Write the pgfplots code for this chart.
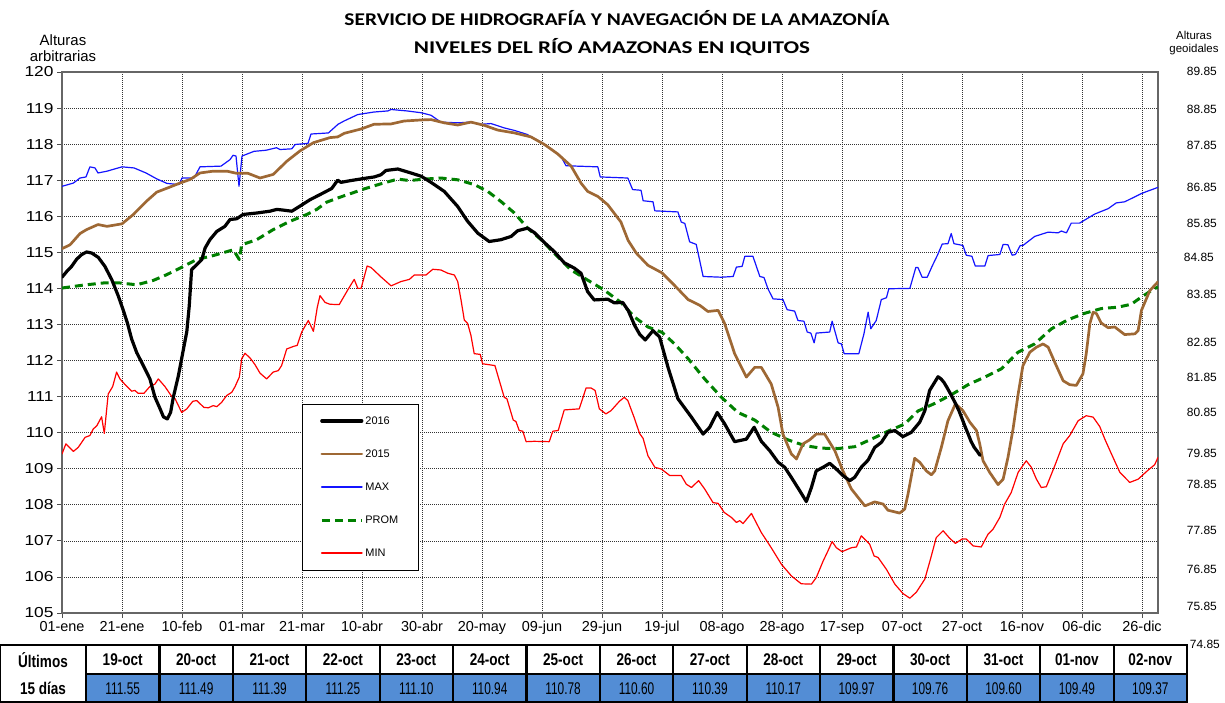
\documentclass[border=0pt]{standalone}
\usepackage{fontspec}
\setmainfont{Liberation Sans}
\newfontfamily\carlito{Carlito}
\usepackage{pgfplots}
\pgfplotsset{compat=1.18}
\definecolor{brownA}{RGB}{158,104,52}
\definecolor{greenA}{RGB}{0,128,0}
\definecolor{blueA}{RGB}{20,20,255}
\definecolor{redA}{RGB}{255,0,0}
\definecolor{tblblue}{RGB}{83,141,213}
\newcommand{\hdr}[1]{\scalebox{0.8}[1]{\bfseries\fontsize{17}{19}\selectfont #1}}
\newcommand{\vlu}[1]{\scalebox{0.7}[1]{\fontsize{17}{19}\selectfont #1}}
\begin{document}
\begin{tikzpicture}[x=1bp,y=1bp]
\useasboundingbox (0,0) rectangle (1225,703);
\begin{axis}[
  at={(62bp,90bp)}, anchor=south west, scale only axis,
  width=1096bp, height=541bp,
  xmin=0, xmax=365.33, ymin=105, ymax=120,
  xtick={0,20,...,360},
  xticklabels={01-ene,21-ene,10-feb,01-mar,21-mar,10-abr,30-abr,20-may,09-jun,29-jun,19-jul,08-ago,28-ago,17-sep,07-oct,27-oct,16-nov,06-dic,26-dic},
  ytick={105,106,...,120},
  yticklabel={\scalebox{1.2}[1]{\pgfmathprintnumber[assume math mode=true]{\tick}}},
  xticklabel style={font=\fontsize{14.5}{16}\selectfont},
  yticklabel style={font=\fontsize{14.5}{16}\selectfont},
  tick pos=left, tick align=outside, major tick length=5bp,
  tick style={black!70, line width=0.8bp},
  grid=major,
  major grid style={black!80, line width=0.7bp, dash pattern=on 1bp off 1bp},
  axis line style={black!60, line width=1.2bp},
  reverse legend,
  legend style={at={(0.219,0.386)}, anchor=north west, draw=black, fill=white,
    font=\fontsize{11}{12}\selectfont, inner xsep=18bp, inner ysep=10bp, row sep=20bp, cells={anchor=west}},
  legend image code/.code={\draw[#1] (0bp,0bp) -- (40bp,0bp);},
  every axis plot/.append style={line join=round, line cap=round},
]
% MIN
\addplot[color=redA, line width=1.2bp, legend image post style={draw=redA, line width=1.8bp}] coordinates {
(0,109.41) (1.3,109.69) (3.8,109.48) (5.4,109.59) (7.7,109.87) (9.3,109.92) (10.4,110.1) (11.6,110.19) (13.2,110.44) (14.1,109.98) (15.4,111.07) (16.9,111.28) (18.2,111.68) (19.3,111.49) (21.3,111.31) (23.2,111.15) (24.3,111.17) (25.4,111.09) (27.3,111.09) (29.3,111.28) (31,111.35) (32.1,111.49) (34.3,111.28) (36.6,111.0) (37.7,110.94) (39.9,110.56) (41.6,110.66) (43.6,110.87) (44.9,110.89) (47.3,110.7) (48.8,110.69) (50.4,110.75) (51.6,110.72) (53.2,110.84) (54.9,111.03) (56.6,111.12) (57.7,111.28) (59.1,111.54) (59.9,112.05) (61,112.2) (62.7,112.07) (64.3,111.89) (66,111.65) (68.2,111.49) (70.4,111.68) (72.1,111.72) (73.2,111.86) (74.9,112.32) (77.1,112.39) (78.4,112.42) (79.9,112.79) (82.1,113.11) (83.8,112.81) (85.1,113.48) (86,113.8) (87.7,113.61) (89.3,113.56) (92.4,113.55) (95.2,113.95) (97.4,114.25) (98.6,114.0) (99.7,114.0) (101.7,114.62) (103,114.58) (106.3,114.32) (109.7,114.07) (113,114.19) (115.8,114.25) (117.4,114.37) (121.3,114.37) (123.6,114.53) (126.3,114.51) (128.6,114.42) (130.8,114.37) (131.9,114.19) (133,113.68) (134.1,113.12) (135.2,113.03) (136.3,112.7) (137.4,112.19) (139.4,112.17) (140.2,111.91) (144.3,111.86) (147.4,110.98) (148.3,110.94) (150.4,110.35) (151.3,110.31) (152.4,110.06) (153.6,110.04) (154.7,109.75) (157.4,109.76) (162.4,109.75) (163.6,110.04) (165.4,110.06) (167.4,110.63) (172.4,110.66) (174.7,111.24) (176.3,111.24) (177.7,111.17) (179.1,110.66) (181.3,110.52) (183,110.61) (185.8,110.87) (187.4,110.98) (188.6,110.89) (190.8,110.4) (192.5,109.98) (193.7,109.84) (195.3,109.36) (197.6,109.04) (199.8,108.99) (202.6,108.81) (206.4,108.81) (208.1,108.57) (209.8,108.48) (212.2,108.67) (214.2,108.44) (217,108.06) (218.7,108.04) (220.7,107.79) (223.1,107.65) (224.8,107.51) (225.9,107.56) (227,107.48) (229.8,107.76) (233.1,107.23) (236.4,106.81) (239.8,106.35) (243.1,106.03) (246.4,105.81) (249.8,105.8) (251.4,105.98) (253.7,106.44) (255.3,106.72) (256.7,106.98) (258.1,106.81) (260,106.7) (263.1,106.81) (264.8,106.83) (266.4,107.14) (269.2,106.91) (270.7,106.58) (272,106.54) (274.8,106.21) (277.6,105.8) (280.3,105.54) (282.6,105.41) (284.8,105.58) (287.6,105.94) (289.5,106.5) (291.4,107.09) (293.7,107.28) (295.9,107.07) (297.8,106.93) (300,107.05) (301.4,107.05) (303.7,106.86) (306.4,106.83) (308.7,107.19) (310.3,107.32) (312.6,107.65) (314.2,108.02) (316.4,108.34) (318.7,108.9) (321.4,109.22) (323.1,109.04) (324.8,108.71) (326.4,108.48) (328.1,108.5) (330.9,109.08) (333.7,109.69) (335.9,109.92) (338.7,110.33) (341.4,110.47) (343.7,110.43) (345.9,110.17) (347.6,109.82) (349.8,109.41) (352.6,108.9) (355.9,108.62) (358.7,108.71) (362,108.96) (364.2,109.11) (365.3,109.31)
};
\addlegendentry{MIN}
% PROM
\addplot[color=greenA, line width=3bp, dash pattern=on 8bp off 5bp, line cap=butt] coordinates {
(0,114.01) (7,114.09) (13.8,114.15) (19.3,114.15) (24.9,114.1) (30.4,114.22) (34.9,114.38) (39.3,114.56) (44.9,114.8) (50.4,114.91) (57.1,115.07) (59.1,114.8) (59.9,115.21) (64.9,115.35) (70.4,115.63) (76,115.86) (81.6,116.05) (84.9,116.19) (88.2,116.39) (92.7,116.53) (95.2,116.6) (100.8,116.76) (106.3,116.9) (111.9,117.03) (115.8,116.99) (120.8,117.03) (126.3,117.06) (131.9,117.01) (137.4,116.88) (141.9,116.69) (146.3,116.41) (150.8,116.09) (155.2,115.67) (159.7,115.35) (164.1,114.97) (169.7,114.51) (175.2,114.23) (180.8,113.95) (186.3,113.61) (190.9,113.2) (195.3,112.93) (200,112.78) (204.2,112.46) (208.7,112.05) (214.2,111.49) (219.8,110.98) (225.3,110.56) (230.9,110.35) (236.4,110.01) (242,109.8) (247.6,109.64) (253.1,109.57) (258.7,109.56) (264.2,109.61) (269.8,109.82) (275.3,110.04) (280.9,110.24) (285.3,110.6) (290.9,110.81) (296.4,111.05) (302,111.33) (307.6,111.54) (313.1,111.77) (318.7,112.23) (324.2,112.46) (329.8,112.88) (335.3,113.13) (340.9,113.31) (346.4,113.44) (352,113.48) (356.4,113.56) (359.8,113.76) (363.1,113.94) (365.3,114.04)
};
\addlegendentry{PROM}
% MAX
\addplot[color=blueA, line width=1.2bp, legend image post style={draw=blueA, line width=1.8bp}] coordinates {
(0,116.83) (3.8,116.92) (6,117.06) (8,117.09) (9.3,117.37) (11,117.34) (12,117.2) (15,117.25) (20,117.37) (24,117.34) (28,117.2) (31.5,117.04) (35,116.91) (39,116.88) (40,117.06) (44,117.06) (46,117.37) (53,117.39) (56,117.57) (57,117.69) (58,117.67) (59,116.83) (60,117.67) (64,117.8) (68,117.83) (71.5,117.9) (72.7,117.85) (76.6,117.87) (77.7,117.99) (82,118.02) (83,118.28) (88.8,118.31) (92,118.55) (94,118.64) (98.6,118.82) (104,118.89) (108.6,118.92) (109.7,118.96) (115,118.92) (119.7,118.87) (123,118.8) (126.3,118.61) (132,118.59) (136,118.61) (139.7,118.55) (143,118.57) (147.4,118.45) (150.8,118.38) (155,118.27) (159.7,118.05) (163,117.87) (166.3,117.66) (168,117.4) (178.6,117.37) (179.4,117.09) (188.6,117.06) (190.2,116.74) (193,116.72) (193.7,116.43) (197,116.4) (197.6,116.15) (205.3,116.12) (206.4,115.84) (207.6,115.8) (209.2,115.29) (211.4,115.22) (213.7,114.33) (219.8,114.31) (223.7,114.33) (224.8,114.59) (226.7,114.61) (227.6,114.89) (230.3,114.89) (232.6,114.33) (234,114.3) (235.3,113.99) (237,113.71) (240.3,113.69) (241.7,113.41) (244.2,113.37) (245.3,113.11) (247.3,113.09) (248.4,112.79) (249.6,112.76) (250.7,112.49) (251.4,112.76) (255.9,112.79) (256.7,113.09) (258.7,112.49) (259.8,112.46) (260.7,112.19) (265.6,112.19) (267.3,112.74) (268.7,113.34) (269.6,112.88) (271.4,113.11) (273.1,113.69) (274.8,113.74) (275.6,113.99) (282.6,114.0) (284.6,114.58) (285.3,114.58) (286.7,114.31) (288.4,114.31) (290,114.61) (291.8,114.92) (293.4,115.23) (295.3,115.24) (296.4,115.52) (297.3,115.24) (300.3,115.19) (301.4,114.92) (303.3,114.89) (304.4,114.62) (307.6,114.62) (308.7,114.91) (312.6,114.94) (313.7,115.22) (315.3,115.21) (316.7,114.92) (317.8,114.94) (319.4,115.19) (320.3,115.19) (324.2,115.44) (328.7,115.56) (332,115.54) (333.1,115.59) (334.8,115.54) (336.4,115.81) (339.2,115.81) (344.2,116.06) (348.7,116.21) (351.4,116.37) (354.2,116.4) (356.4,116.49) (359.8,116.63) (362,116.7) (365.3,116.8)
};
\addlegendentry{MAX}
% 2015
\addplot[color=brownA, line width=2.7bp] coordinates {
(0,115.1) (2.7,115.21) (6,115.52) (8.2,115.63) (12,115.77) (15,115.72) (20,115.79) (23.8,116.05) (28.2,116.42) (31.6,116.67) (36,116.81) (39,116.91) (42.7,117.02) (46,117.2) (50.4,117.25) (55,117.25) (58.2,117.19) (62,117.19) (66,117.06) (70.4,117.16) (75,117.53) (79.3,117.81) (83.8,118.04) (89.3,118.18) (91.9,118.2) (94.1,118.3) (99.7,118.42) (104,118.55) (109.7,118.56) (114,118.64) (119.7,118.67) (123,118.68) (127.4,118.59) (131.9,118.53) (136.3,118.61) (140.8,118.52) (145.2,118.39) (150.8,118.31) (156.3,118.2) (160.8,117.99) (165.2,117.73) (169.7,117.39) (173,116.92) (175.2,116.69) (178.6,116.55) (181.9,116.32) (186.3,115.84) (188.7,115.33) (191.4,114.98) (195.3,114.64) (200,114.43) (204.2,114.08) (208.7,113.69) (212.6,113.53) (215.3,113.36) (218.7,113.39) (220.9,113.02) (224.2,112.19) (228.1,111.54) (230.9,111.81) (233.1,111.81) (236.4,111.35) (238.7,110.7) (240.3,109.96) (243.1,109.41) (244.8,109.27) (247,109.69) (249.2,109.8) (251.4,109.96) (254.2,109.96) (257.6,109.5) (260.3,108.94) (263.1,108.44) (267.6,107.97) (270.9,108.08) (273.7,108.02) (275.3,107.85) (279.2,107.77) (280.9,107.88) (282,108.3) (284.2,109.29) (285.9,109.18) (288.1,108.94) (289.8,108.83) (290.9,108.94) (293.1,109.59) (295.3,110.33) (297.8,110.8) (300.3,110.61) (302.6,110.29) (304.8,110.06) (305.9,109.69) (307,109.22) (309.2,108.9) (312,108.56) (313.7,108.71) (315.3,109.31) (317,110.1) (318.7,111.07) (320.3,111.86) (322.6,112.23) (324.8,112.37) (327,112.46) (328.7,112.37) (331.4,111.86) (333.7,111.44) (335.9,111.33) (338.1,111.31) (340.3,111.63) (341.4,112.19) (342.6,113.02) (343.7,113.34) (344.8,113.3) (346.4,113.04) (348.7,112.91) (350.9,112.93) (354.2,112.72) (357.6,112.74) (358.7,112.83) (359.8,113.39) (362.6,113.94) (365.3,114.18)
};
\addlegendentry{2015}
% 2016
\addplot[color=black, line width=3.2bp] coordinates {
(0,114.31) (1.6,114.47) (3.2,114.61) (4.9,114.81) (6.6,114.94) (8.2,115.01) (9.9,114.98) (12.1,114.86) (14.3,114.61) (16.6,114.24) (18.8,113.78) (20.4,113.4) (21.8,113.04) (23.2,112.6) (24.9,112.22) (27.1,111.86) (29.3,111.49) (31,110.98) (32.7,110.66) (33.8,110.44) (35.1,110.38) (36.2,110.56) (37.1,110.98) (38.8,111.58) (40.4,112.28) (41.6,112.8) (42.4,113.5) (43.2,114.52) (44.9,114.66) (46.6,114.8) (47.7,115.12) (49.3,115.35) (51.6,115.58) (54.3,115.72) (56,115.91) (58.2,115.93) (60.4,116.05) (64.9,116.09) (69.3,116.14) (71.6,116.19) (73.8,116.17) (76.6,116.14) (79.3,116.28) (82.7,116.46) (86,116.6) (89.9,116.77) (91.9,117.0) (93,116.94) (96.3,116.99) (100.8,117.05) (104.1,117.09) (106.3,117.15) (108,117.27) (111.9,117.31) (116.3,117.2) (119.7,117.11) (123,116.94) (127.4,116.69) (131.9,116.27) (135.2,115.86) (138.6,115.53) (142.4,115.3) (146.3,115.35) (149.7,115.44) (151.9,115.6) (155.2,115.67) (157.4,115.55) (160.8,115.27) (164.1,115.02) (167.4,114.71) (170.8,114.56) (173,114.42) (175.2,113.91) (177.4,113.68) (181.9,113.7) (184.1,113.6) (186.9,113.61) (188.7,113.39) (190.9,112.97) (192.6,112.72) (194.4,112.57) (197,112.83) (199.2,112.65) (202,111.81) (205.3,110.94) (209.8,110.43) (213.7,109.96) (215.9,110.15) (218.4,110.56) (220.9,110.24) (224.2,109.75) (228.1,109.82) (230.7,110.15) (233.1,109.76) (235.9,109.5) (238.7,109.18) (240.9,109.04) (243.1,108.76) (245.9,108.39) (248.1,108.09) (249.8,108.48) (251.4,108.94) (253.7,109.04) (255.9,109.15) (258.1,108.99) (260.3,108.81) (262.6,108.67) (264.2,108.76) (266.4,109.04) (268.7,109.24) (270.9,109.59) (273.1,109.73) (275.3,110.01) (277.6,110.06) (280.3,109.89) (283.1,110.01) (285.9,110.29) (287.6,110.61) (289.2,111.17) (292,111.55) (293,111.49) (294,111.39) (295,111.25) (296,111.10) (297,110.94) (298,110.78) (299,110.60) (300,110.39) (301,110.17) (302,109.97) (303,109.76) (304,109.60) (305,109.49) (306,109.37)
};
\addlegendentry{2016}
\end{axis}
% titles
\node at (617,685) {\resizebox{545bp}{\height}{\carlito\bfseries\fontsize{18}{20}\selectfont SERVICIO DE HIDROGRAFÍA Y NAVEGACIÓN DE LA AMAZONÍA}};
\node at (612,656) {\resizebox{396bp}{\height}{\carlito\bfseries\fontsize{18}{20}\selectfont NIVELES DEL RÍO AMAZONAS EN IQUITOS}};
\node[align=center, font=\fontsize{15}{16}\selectfont] at (63,655) {Alturas\\arbitrarias};
\node[align=center, font=\fontsize{11.5}{12.5}\selectfont] at (1194,660) {Alturas\\geoidales};
% right labels
\foreach \lab/\yy in {89.85/71,88.85/109,87.85/145,86.85/187,85.85/223,83.85/294,82.85/342,81.85/377,80.85/412,79.85/453,78.85/484,77.85/530,76.85/569,75.85/606}{
  \node[anchor=east, font=\fontsize{12}{13}\selectfont, inner sep=0pt] at (1217,703-\yy) {\lab};
}
\node[anchor=east, font=\fontsize{12}{13}\selectfont, inner sep=0pt] at (1214,703-257) {84.85};
\node[anchor=east, font=\fontsize{12}{13}\selectfont, inner sep=0pt] at (1220,703-644) {74.85};
% table
\fill[tblblue] (86,1) rectangle (1187,29);
\draw[line width=2.2bp] (0,1) rectangle (1187,58);
\draw[line width=2.2bp] (86,29) -- (1187,29);
\foreach \i in {0,...,14}{ \draw[line width=2.2bp] ({86+73.4*\i},1) -- ({86+73.4*\i},58); }
\foreach \lab/\val [count=\i from 0] in {19-oct/111.55,20-oct/111.49,21-oct/111.39,22-oct/111.25,23-oct/111.10,24-oct/110.94,25-oct/110.78,26-oct/110.60,27-oct/110.39,28-oct/110.17,29-oct/109.97,30-oct/109.76,31-oct/109.60,01-nov/109.49,02-nov/109.37}{
  \node at ({86+73.4*\i+36.7},43) {\hdr{\lab}};
  \node at ({86+73.4*\i+36.7},14.5) {\vlu{\val}};
}
\node at (43,43) {\hdr{Últimos}};
\node at (43,14.5) {\hdr{15 días}};
\end{tikzpicture}
\end{document}
